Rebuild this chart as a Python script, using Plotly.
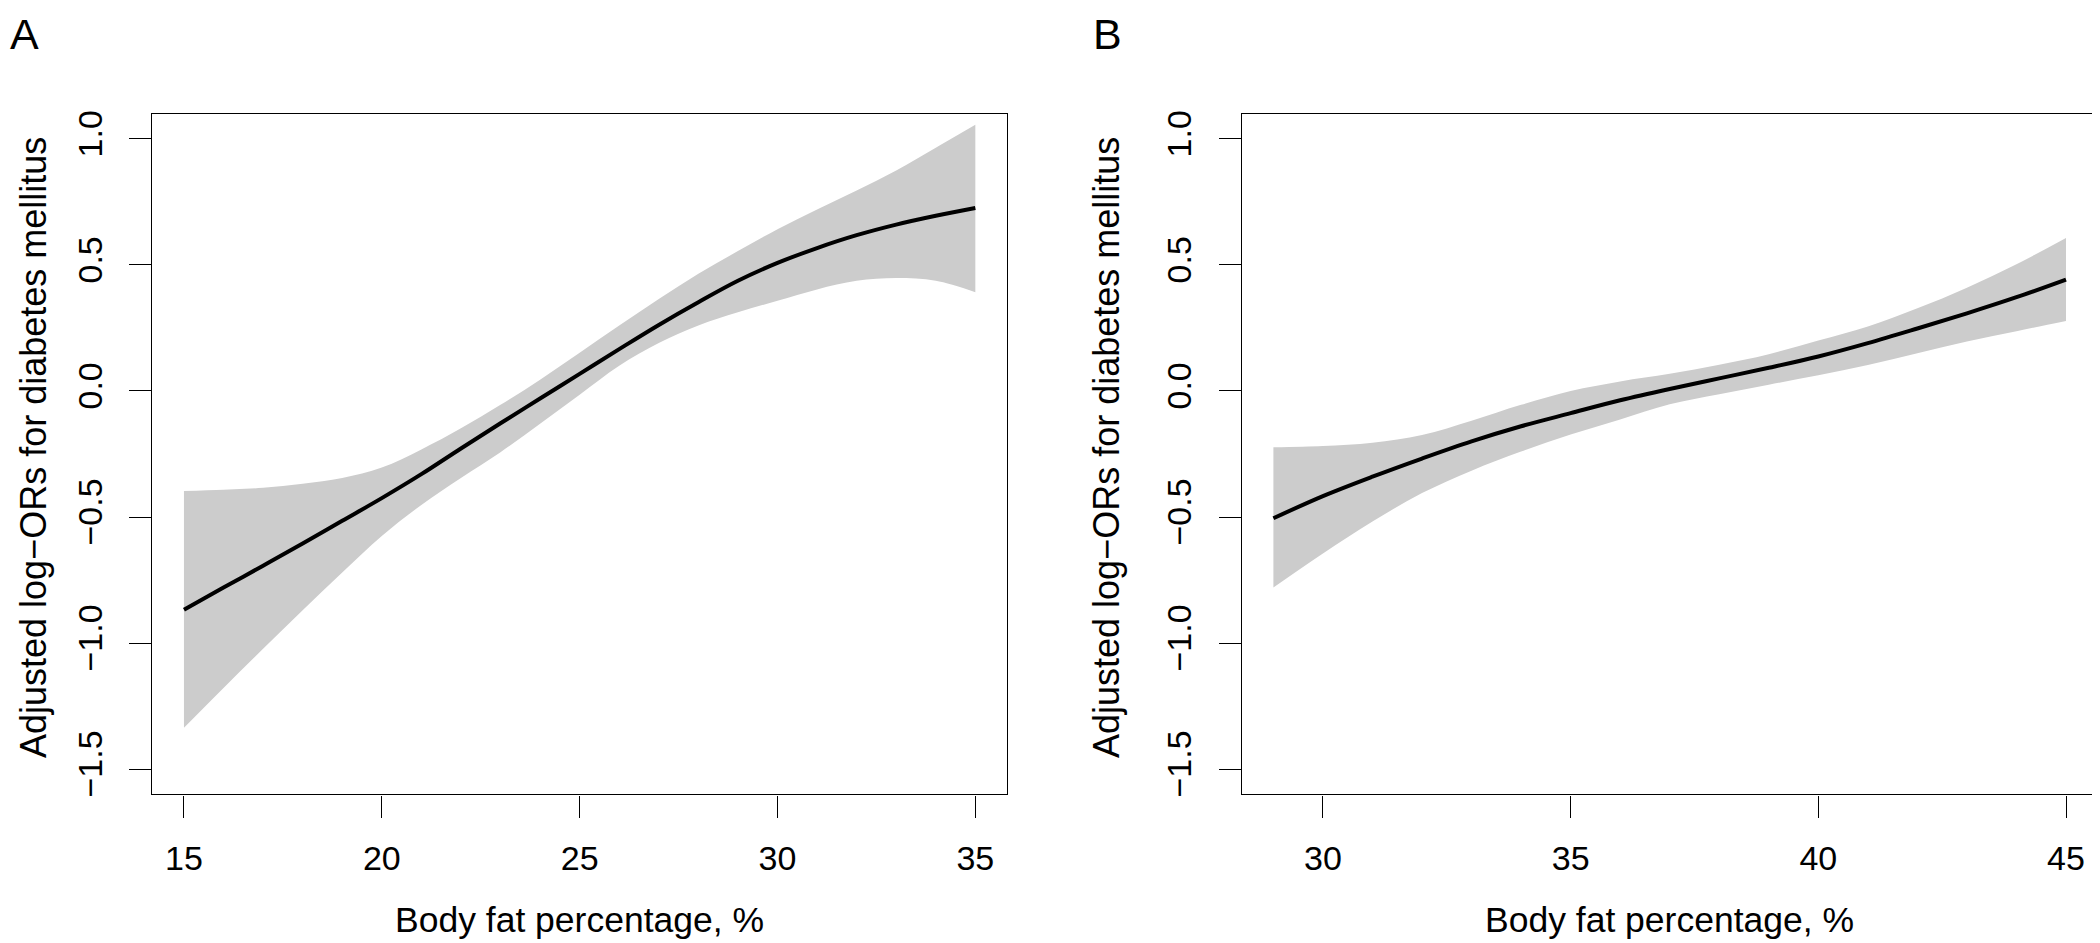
import plotly.graph_objects as go

# ---- Panel A data ----
xa = [15, 16, 17, 18, 19, 20, 21, 22, 23, 24, 25, 26, 27, 28, 29, 30, 31, 32, 33, 34, 35]
fit_a = [-0.868, -0.78, -0.693, -0.605, -0.515, -0.425, -0.33, -0.228, -0.128, -0.03, 0.068,
         0.166, 0.262, 0.352, 0.437, 0.508, 0.567, 0.618, 0.66, 0.695, 0.726]
upper_a = [-0.397, -0.392, -0.384, -0.368, -0.345, -0.304, -0.232, -0.148, -0.055, 0.045, 0.152,
           0.26, 0.365, 0.465, 0.555, 0.642, 0.72, 0.795, 0.875, 0.965, 1.056]
lower_a = [-1.336, -1.178, -1.023, -0.870, -0.72, -0.575, -0.452, -0.345, -0.243, -0.13, -0.015,
           0.1, 0.19, 0.26, 0.312, 0.358, 0.403, 0.437, 0.448, 0.437, 0.392]

# ---- Panel B data ----
xb = [29, 30, 31, 32, 33, 34, 35, 36, 37, 38, 39, 40, 41, 42, 43, 44, 45]
fit_b = [-0.505, -0.417, -0.340, -0.268, -0.200, -0.140, -0.088, -0.037, 0.008, 0.05, 0.092,
         0.137, 0.19, 0.248, 0.308, 0.372, 0.442]
upper_b = [-0.223, -0.218, -0.205, -0.175, -0.118, -0.055, 0.0, 0.038, 0.068, 0.104, 0.146,
           0.2, 0.256, 0.328, 0.41, 0.503, 0.607]
lower_b = [-0.78, -0.645, -0.518, -0.405, -0.316, -0.24, -0.173, -0.113, -0.053, -0.013, 0.025,
           0.062, 0.103, 0.150, 0.196, 0.237, 0.278]

# ---- ticks / labels ----
xticks_a = [15, 20, 25, 30, 35]
xticks_b = [30, 35, 40, 45]
yticks = [-1.5, -1.0, -0.5, 0.0, 0.5, 1.0]
ytick_labels = ["\u22121.5", "\u22121.0", "\u22120.5", "0.0", "0.5", "1.0"]
x_title = "Body fat percentage, %"
y_title = "Adjusted log\u2212ORs for diabetes mellitus"
panel_labels = ["A", "B"]

# page body has an 8px margin: figure is drawn at offset (8, 8) in the window
OFF = 8
W, H = 2100 - OFF, 943 - OFF
FONT = "Liberation Sans, Arial, sans-serif"
BAND = "#cccccc"

fig = go.Figure()

def add_panel(x, lo, up, fit, xa_name, ya_name):
    fig.add_trace(go.Scatter(x=x, y=lo, mode="lines", line=dict(width=0, shape="spline"),
                             xaxis=xa_name, yaxis=ya_name, showlegend=False, hoverinfo="skip"))
    fig.add_trace(go.Scatter(x=x, y=up, mode="lines", line=dict(width=0, shape="spline"),
                             fill="tonexty", fillcolor=BAND,
                             xaxis=xa_name, yaxis=ya_name, showlegend=False, hoverinfo="skip"))
    fig.add_trace(go.Scatter(x=x, y=fit, mode="lines", line=dict(color="black", width=4, shape="spline"),
                             xaxis=xa_name, yaxis=ya_name, showlegend=False))

add_panel(xa, lower_a, upper_a, fit_a, "x", "y")
add_panel(xb, lower_b, upper_b, fit_b, "x2", "y2")

# plot areas in window pixels, converted to figure pixels
A_l, A_r = 152.3 - OFF, 1007.0 - OFF
B_l, B_r = 1241.7 - OFF, 2097.7 - OFF
P_t, P_b = 113.7 - OFF, 794.3 - OFF
yd = [(H - P_b) / H, (H - P_t) / H]

def xrange_r(lo, hi):
    d = (hi - lo) * 0.04
    return [lo - d, hi + d]

common_x = dict(showline=True, mirror=True, linecolor="black", linewidth=1.4,
                ticks="outside", ticklen=22, tickwidth=1.4, tickcolor="black",
                showgrid=False, zeroline=False, automargin=False,
                tickfont=dict(family=FONT, size=34, color="black"),
                ticklabelstandoff=12)
common_y = dict(showline=True, mirror=True, linecolor="black", linewidth=1.4,
                ticks="outside", ticklen=22, tickwidth=1.4, tickcolor="black",
                showgrid=False, zeroline=False, automargin=False,
                tickfont=dict(family=FONT, size=34, color="black"),
                tickvals=yticks, ticktext=ytick_labels, tickangle=-90,
                range=[-1.6, 1.1], ticklabelstandoff=14)

fig.update_layout(
    width=W, height=H,
    margin=dict(l=0, r=0, t=0, b=0),
    paper_bgcolor="white", plot_bgcolor="white",
    xaxis=dict(domain=[A_l / W, A_r / W], anchor="y", range=xrange_r(15, 35),
               tickvals=xticks_a, **common_x),
    yaxis=dict(domain=yd, anchor="x", **common_y),
    xaxis2=dict(domain=[B_l / W, B_r / W], anchor="y2", range=xrange_r(29, 45),
                tickvals=xticks_b, **common_x),
    yaxis2=dict(domain=yd, anchor="x2", **common_y),
)

ann = []
ytitle_mid = 1 - (448 - OFF) / H
for (left, right, lab, lab_x, yt_x) in [(A_l, A_r, panel_labels[0], 0, 25),
                                         (B_l, B_r, panel_labels[1], 1091 - OFF, 1106 - OFF)]:
    ann.append(dict(x=(left + right) / 2 / W, y=1 - (920 - OFF) / H, xref="paper", yref="paper",
                    text=x_title, showarrow=False, xanchor="center", yanchor="middle",
                    font=dict(family=FONT, size=35.5, color="black")))
    ann.append(dict(x=yt_x / W, y=ytitle_mid, xref="paper", yref="paper",
                    text=y_title, showarrow=False, textangle=-90, xanchor="center", yanchor="middle",
                    font=dict(family=FONT, size=36, color="black")))
    ann.append(dict(x=lab_x / W, y=1.0, xref="paper", yref="paper",
                    text=lab, showarrow=False, xanchor="left", yanchor="top",
                    font=dict(family=FONT, size=43, color="black")))
fig.update_layout(annotations=ann)

fig.write_html("out.html")
